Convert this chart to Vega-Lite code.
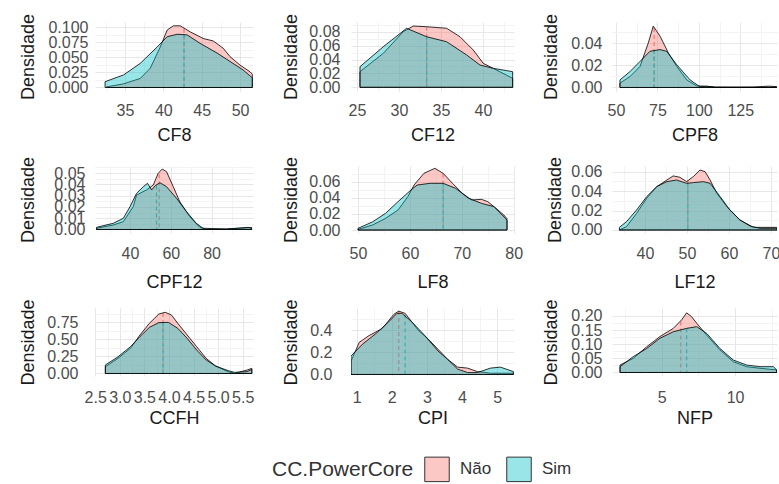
{
  "$schema": "https://vega.github.io/schema/vega-lite/v6.json",
  "autosize": {"type": "none"},
  "padding": {"left": 95, "top": 22, "right": 684, "bottom": 462},
  "background": "white",
  "datasets": {
    "means": [
      {"v": "CF8", "grp": "Não", "x": 42.7, "y": 0.097}, {"v": "CF8", "grp": "Sim", "x": 42.7, "y": 0.088},
      {"v": "CF12", "grp": "Não", "x": 33.3, "y": 0.087}, {"v": "CF12", "grp": "Sim", "x": 33.3, "y": 0.073},
      {"v": "CPF8", "grp": "Não", "x": 73, "y": 0.054}, {"v": "CPF8", "grp": "Sim", "x": 73, "y": 0.034},
      {"v": "CPF12", "grp": "Não", "x": 54.3, "y": 0.049}, {"v": "CPF12", "grp": "Sim", "x": 53.0, "y": 0.039},
      {"v": "LF8", "grp": "Não", "x": 66.4, "y": 0.070}, {"v": "LF8", "grp": "Sim", "x": 66.4, "y": 0.058},
      {"v": "LF12", "grp": "Não", "x": 50.2, "y": 0.051}, {"v": "LF12", "grp": "Sim", "x": 50.2, "y": 0.048},
      {"v": "CCFH", "grp": "Não", "x": 3.88, "y": 0.89}, {"v": "CCFH", "grp": "Sim", "x": 3.88, "y": 0.75},
      {"v": "CPI", "grp": "Não", "x": 2.2, "y": 0.57}, {"v": "CPI", "grp": "Sim", "x": 2.38, "y": 0.54},
      {"v": "NFP", "grp": "Não", "x": 6.3, "y": 0.18}, {"v": "NFP", "grp": "Sim", "x": 6.7, "y": 0.156}
    ],
    "dens": [
      {"v":"CF8","g":"Não","x":32.6,"y":0.001},{"v":"CF8","g":"Não","x":34.8,"y":0.006},{"v":"CF8","g":"Não","x":37.0,"y":0.015},{"v":"CF8","g":"Não","x":38.3,"y":0.032},{"v":"CF8","g":"Não","x":39.6,"y":0.067},{"v":"CF8","g":"Não","x":40.5,"y":0.095},{"v":"CF8","g":"Não","x":41.3,"y":0.102},{"v":"CF8","g":"Não","x":42.2,"y":0.102},{"v":"CF8","g":"Não","x":43.5,"y":0.092},{"v":"CF8","g":"Não","x":45.2,"y":0.081},{"v":"CF8","g":"Não","x":46.5,"y":0.077},{"v":"CF8","g":"Não","x":47.8,"y":0.065},{"v":"CF8","g":"Não","x":48.7,"y":0.051},{"v":"CF8","g":"Não","x":50.0,"y":0.037},{"v":"CF8","g":"Não","x":51.3,"y":0.026},{"v":"CF8","g":"Não","x":51.6,"y":0.022},
      {"v":"CF8","g":"Sim","x":32.4,"y":0.0096},{"v":"CF8","g":"Sim","x":34.8,"y":0.0207},{"v":"CF8","g":"Sim","x":37.0,"y":0.040},{"v":"CF8","g":"Sim","x":39.2,"y":0.067},{"v":"CF8","g":"Sim","x":40.5,"y":0.084},{"v":"CF8","g":"Sim","x":41.8,"y":0.088},{"v":"CF8","g":"Sim","x":43.1,"y":0.087},{"v":"CF8","g":"Sim","x":44.8,"y":0.073},{"v":"CF8","g":"Sim","x":47.0,"y":0.057},{"v":"CF8","g":"Sim","x":48.7,"y":0.043},{"v":"CF8","g":"Sim","x":50.4,"y":0.029},{"v":"CF8","g":"Sim","x":51.6,"y":0.016},

      {"v":"CF12","g":"Não","x":25.36,"y":0.0225},{"v":"CF12","g":"Não","x":28.13,"y":0.0489},{"v":"CF12","g":"Não","x":30.51,"y":0.080},{"v":"CF12","g":"Não","x":31.7,"y":0.0882},{"v":"CF12","g":"Não","x":33.29,"y":0.0872},{"v":"CF12","g":"Não","x":35.67,"y":0.085},{"v":"CF12","g":"Não","x":37.26,"y":0.0728},{"v":"CF12","g":"Não","x":38.84,"y":0.0537},{"v":"CF12","g":"Não","x":40.03,"y":0.0345},{"v":"CF12","g":"Não","x":41.22,"y":0.0273},{"v":"CF12","g":"Não","x":43.53,"y":0.013},
      {"v":"CF12","g":"Sim","x":25.36,"y":0.0297},{"v":"CF12","g":"Sim","x":28.13,"y":0.0584},{"v":"CF12","g":"Sim","x":30.91,"y":0.0849},{"v":"CF12","g":"Sim","x":33.29,"y":0.0728},{"v":"CF12","g":"Sim","x":35.67,"y":0.0656},{"v":"CF12","g":"Sim","x":38.06,"y":0.0465},{"v":"CF12","g":"Sim","x":39.64,"y":0.0321},{"v":"CF12","g":"Sim","x":41.22,"y":0.0273},{"v":"CF12","g":"Sim","x":43.53,"y":0.0225},

      {"v":"CPF8","g":"Não","x":52.4,"y":0.0039},{"v":"CPF8","g":"Não","x":58.5,"y":0.0100},{"v":"CPF8","g":"Não","x":64.5,"y":0.0191},{"v":"CPF8","g":"Não","x":69.5,"y":0.0405},{"v":"CPF8","g":"Não","x":72.5,"y":0.0558},{"v":"CPF8","g":"Não","x":76.6,"y":0.0466},{"v":"CPF8","g":"Não","x":81.6,"y":0.0314},{"v":"CPF8","g":"Não","x":86.7,"y":0.0191},{"v":"CPF8","g":"Não","x":92.7,"y":0.0069},{"v":"CPF8","g":"Não","x":98.7,"y":0.0014},{"v":"CPF8","g":"Não","x":104,"y":0.0012},{"v":"CPF8","g":"Não","x":110,"y":0.0004},{"v":"CPF8","g":"Não","x":123,"y":0.0003},{"v":"CPF8","g":"Não","x":133,"y":0.0004},{"v":"CPF8","g":"Não","x":142,"y":0.0012},{"v":"CPF8","g":"Não","x":147,"y":0.0008},
      {"v":"CPF8","g":"Sim","x":52.4,"y":0.0069},{"v":"CPF8","g":"Sim","x":58.5,"y":0.0145},{"v":"CPF8","g":"Sim","x":64.5,"y":0.0237},{"v":"CPF8","g":"Sim","x":70.5,"y":0.0329},{"v":"CPF8","g":"Sim","x":76.6,"y":0.0344},{"v":"CPF8","g":"Sim","x":80.6,"y":0.0329},{"v":"CPF8","g":"Sim","x":86.7,"y":0.0206},{"v":"CPF8","g":"Sim","x":94.7,"y":0.0069},{"v":"CPF8","g":"Sim","x":100.7,"y":0.0007},{"v":"CPF8","g":"Sim","x":105,"y":0.0011},{"v":"CPF8","g":"Sim","x":110,"y":0.0002},{"v":"CPF8","g":"Sim","x":147,"y":0.0002},

      {"v":"CPF12","g":"Não","x":23.6,"y":0.0011},{"v":"CPF12","g":"Não","x":31.8,"y":0.004},{"v":"CPF12","g":"Não","x":36.7,"y":0.0069},{"v":"CPF12","g":"Não","x":41.6,"y":0.0202},{"v":"CPF12","g":"Não","x":43.2,"y":0.0305},{"v":"CPF12","g":"Não","x":48.1,"y":0.035},{"v":"CPF12","g":"Não","x":51.4,"y":0.0394},{"v":"CPF12","g":"Não","x":53.8,"y":0.0497},{"v":"CPF12","g":"Não","x":55.8,"y":0.0535},{"v":"CPF12","g":"Não","x":57.9,"y":0.0512},{"v":"CPF12","g":"Não","x":61.2,"y":0.0379},{"v":"CPF12","g":"Não","x":64.4,"y":0.0246},{"v":"CPF12","g":"Não","x":69.3,"y":0.0113},{"v":"CPF12","g":"Não","x":74.2,"y":0.0019},{"v":"CPF12","g":"Não","x":77.4,"y":0.0002},{"v":"CPF12","g":"Não","x":87.2,"y":0.0004},{"v":"CPF12","g":"Não","x":97.9,"y":0.0015},{"v":"CPF12","g":"Não","x":99.6,"y":0.0019},
      {"v":"CPF12","g":"Sim","x":23.6,"y":0.0019},{"v":"CPF12","g":"Sim","x":31.8,"y":0.0055},{"v":"CPF12","g":"Sim","x":36.7,"y":0.0099},{"v":"CPF12","g":"Sim","x":40.0,"y":0.0202},{"v":"CPF12","g":"Sim","x":43.2,"y":0.032},{"v":"CPF12","g":"Sim","x":46.5,"y":0.0379},{"v":"CPF12","g":"Sim","x":48.6,"y":0.0409},{"v":"CPF12","g":"Sim","x":50.6,"y":0.035},{"v":"CPF12","g":"Sim","x":52.5,"y":0.039},{"v":"CPF12","g":"Sim","x":54.7,"y":0.0414},{"v":"CPF12","g":"Sim","x":57.9,"y":0.0379},{"v":"CPF12","g":"Sim","x":62.8,"y":0.0276},{"v":"CPF12","g":"Sim","x":67.7,"y":0.0158},{"v":"CPF12","g":"Sim","x":72.5,"y":0.0055},{"v":"CPF12","g":"Sim","x":75.8,"y":0.0011},{"v":"CPF12","g":"Sim","x":87.2,"y":0.0004},{"v":"CPF12","g":"Sim","x":97.9,"y":0.0019},{"v":"CPF12","g":"Sim","x":99.6,"y":0.001},

      {"v":"LF8","g":"Não","x":50.0,"y":0.0008},{"v":"LF8","g":"Não","x":52.8,"y":0.0062},{"v":"LF8","g":"Não","x":55.3,"y":0.0145},{"v":"LF8","g":"Não","x":57.7,"y":0.0248},{"v":"LF8","g":"Não","x":59.6,"y":0.0414},{"v":"LF8","g":"Não","x":60.8,"y":0.0559},{"v":"LF8","g":"Não","x":62.7,"y":0.0704},{"v":"LF8","g":"Não","x":64.8,"y":0.0766},{"v":"LF8","g":"Não","x":66.4,"y":0.0704},{"v":"LF8","g":"Não","x":68.2,"y":0.058},{"v":"LF8","g":"Não","x":70.1,"y":0.0456},{"v":"LF8","g":"Não","x":71.9,"y":0.0373},{"v":"LF8","g":"Não","x":73.8,"y":0.0381},{"v":"LF8","g":"Não","x":75.0,"y":0.0352},{"v":"LF8","g":"Não","x":76.2,"y":0.029},{"v":"LF8","g":"Não","x":78.1,"y":0.0186},{"v":"LF8","g":"Não","x":78.7,"y":0.014},
      {"v":"LF8","g":"Sim","x":50.0,"y":0.0021},{"v":"LF8","g":"Sim","x":52.8,"y":0.0101},{"v":"LF8","g":"Sim","x":55.3,"y":0.0207},{"v":"LF8","g":"Sim","x":57.7,"y":0.0352},{"v":"LF8","g":"Sim","x":60.2,"y":0.0497},{"v":"LF8","g":"Sim","x":61.4,"y":0.0559},{"v":"LF8","g":"Sim","x":63.9,"y":0.058},{"v":"LF8","g":"Sim","x":66.4,"y":0.058},{"v":"LF8","g":"Sim","x":68.8,"y":0.0518},{"v":"LF8","g":"Sim","x":71.3,"y":0.0394},{"v":"LF8","g":"Sim","x":73.8,"y":0.0331},{"v":"LF8","g":"Sim","x":76.2,"y":0.029},{"v":"LF8","g":"Sim","x":78.4,"y":0.0145},{"v":"LF8","g":"Sim","x":78.7,"y":0.012},

      {"v":"LF12","g":"Não","x":33.9,"y":0.0},{"v":"LF12","g":"Não","x":35.6,"y":0.0034},{"v":"LF12","g":"Não","x":38.0,"y":0.0171},{"v":"LF12","g":"Não","x":40.4,"y":0.0326},{"v":"LF12","g":"Não","x":42.8,"y":0.0446},{"v":"LF12","g":"Não","x":45.2,"y":0.0514},{"v":"LF12","g":"Não","x":46.7,"y":0.0556},{"v":"LF12","g":"Não","x":48.3,"y":0.0542},{"v":"LF12","g":"Não","x":49.9,"y":0.0497},{"v":"LF12","g":"Não","x":51.5,"y":0.0549},{"v":"LF12","g":"Não","x":53.1,"y":0.0617},{"v":"LF12","g":"Não","x":54.3,"y":0.06},{"v":"LF12","g":"Não","x":55.5,"y":0.0514},{"v":"LF12","g":"Não","x":57.1,"y":0.0377},{"v":"LF12","g":"Não","x":59.5,"y":0.024},{"v":"LF12","g":"Não","x":62.6,"y":0.0103},{"v":"LF12","g":"Não","x":65.8,"y":0.0027},{"v":"LF12","g":"Não","x":71.4,"y":0.0027},
      {"v":"LF12","g":"Sim","x":33.9,"y":0.0027},{"v":"LF12","g":"Sim","x":35.6,"y":0.0086},{"v":"LF12","g":"Sim","x":38.0,"y":0.0206},{"v":"LF12","g":"Sim","x":40.4,"y":0.0343},{"v":"LF12","g":"Sim","x":42.8,"y":0.0446},{"v":"LF12","g":"Sim","x":45.2,"y":0.0497},{"v":"LF12","g":"Sim","x":47.5,"y":0.0514},{"v":"LF12","g":"Sim","x":49.9,"y":0.048},{"v":"LF12","g":"Sim","x":51.5,"y":0.0487},{"v":"LF12","g":"Sim","x":53.9,"y":0.0497},{"v":"LF12","g":"Sim","x":55.5,"y":0.048},{"v":"LF12","g":"Sim","x":57.9,"y":0.0343},{"v":"LF12","g":"Sim","x":60.2,"y":0.0206},{"v":"LF12","g":"Sim","x":62.6,"y":0.0103},{"v":"LF12","g":"Sim","x":65.0,"y":0.0041},{"v":"LF12","g":"Sim","x":67.4,"y":0.0017},{"v":"LF12","g":"Sim","x":71.4,"y":0.0017},

      {"v":"CCFH","g":"Não","x":2.706,"y":0.10},{"v":"CCFH","g":"Não","x":2.962,"y":0.223},{"v":"CCFH","g":"Não","x":3.217,"y":0.37},{"v":"CCFH","g":"Não","x":3.41,"y":0.566},{"v":"CCFH","g":"Não","x":3.602,"y":0.738},{"v":"CCFH","g":"Não","x":3.795,"y":0.875},{"v":"CCFH","g":"Não","x":3.923,"y":0.90},{"v":"CCFH","g":"Não","x":4.051,"y":0.86},{"v":"CCFH","g":"Não","x":4.179,"y":0.738},{"v":"CCFH","g":"Não","x":4.371,"y":0.566},{"v":"CCFH","g":"Não","x":4.564,"y":0.394},{"v":"CCFH","g":"Não","x":4.756,"y":0.223},{"v":"CCFH","g":"Não","x":4.949,"y":0.11},{"v":"CCFH","g":"Não","x":5.205,"y":0.027},{"v":"CCFH","g":"Não","x":5.333,"y":0.002},{"v":"CCFH","g":"Não","x":5.59,"y":0.051},{"v":"CCFH","g":"Não","x":5.686,"y":0.076},
      {"v":"CCFH","g":"Sim","x":2.706,"y":0.125},{"v":"CCFH","g":"Sim","x":2.962,"y":0.245},{"v":"CCFH","g":"Sim","x":3.217,"y":0.394},{"v":"CCFH","g":"Sim","x":3.41,"y":0.542},{"v":"CCFH","g":"Sim","x":3.602,"y":0.679},{"v":"CCFH","g":"Sim","x":3.795,"y":0.748},{"v":"CCFH","g":"Sim","x":3.987,"y":0.752},{"v":"CCFH","g":"Sim","x":4.179,"y":0.664},{"v":"CCFH","g":"Sim","x":4.371,"y":0.517},{"v":"CCFH","g":"Sim","x":4.564,"y":0.345},{"v":"CCFH","g":"Sim","x":4.756,"y":0.199},{"v":"CCFH","g":"Sim","x":4.949,"y":0.11},{"v":"CCFH","g":"Sim","x":5.205,"y":0.042},{"v":"CCFH","g":"Sim","x":5.333,"y":0.017},{"v":"CCFH","g":"Sim","x":5.59,"y":0.027},{"v":"CCFH","g":"Sim","x":5.686,"y":0.061},

      {"v":"CPI","g":"Não","x":0.84,"y":0.119},{"v":"CPI","g":"Não","x":1.075,"y":0.289},{"v":"CPI","g":"Não","x":1.355,"y":0.35},{"v":"CPI","g":"Não","x":1.728,"y":0.412},{"v":"CPI","g":"Não","x":2.055,"y":0.54},{"v":"CPI","g":"Não","x":2.195,"y":0.57},{"v":"CPI","g":"Não","x":2.381,"y":0.55},{"v":"CPI","g":"Não","x":2.756,"y":0.397},{"v":"CPI","g":"Não","x":3.036,"y":0.319},{"v":"CPI","g":"Não","x":3.317,"y":0.227},{"v":"CPI","g":"Não","x":3.597,"y":0.134},{"v":"CPI","g":"Não","x":3.877,"y":0.066},{"v":"CPI","g":"Não","x":4.157,"y":0.057},{"v":"CPI","g":"Não","x":4.437,"y":0.026},{"v":"CPI","g":"Não","x":4.81,"y":0.011},{"v":"CPI","g":"Não","x":5.462,"y":0.011},
      {"v":"CPI","g":"Sim","x":0.84,"y":0.165},{"v":"CPI","g":"Sim","x":1.168,"y":0.273},{"v":"CPI","g":"Sim","x":1.541,"y":0.366},{"v":"CPI","g":"Sim","x":1.915,"y":0.474},{"v":"CPI","g":"Sim","x":2.148,"y":0.55},{"v":"CPI","g":"Sim","x":2.289,"y":0.55},{"v":"CPI","g":"Sim","x":2.569,"y":0.474},{"v":"CPI","g":"Sim","x":2.942,"y":0.35},{"v":"CPI","g":"Sim","x":3.317,"y":0.211},{"v":"CPI","g":"Sim","x":3.597,"y":0.134},{"v":"CPI","g":"Sim","x":3.877,"y":0.048},{"v":"CPI","g":"Sim","x":4.157,"y":0.017},{"v":"CPI","g":"Sim","x":4.437,"y":0.017},{"v":"CPI","g":"Sim","x":4.81,"y":0.057},{"v":"CPI","g":"Sim","x":5.09,"y":0.066},{"v":"CPI","g":"Sim","x":5.462,"y":0.026},

      {"v":"NFP","g":"Não","x":2.16,"y":0.0265},{"v":"NFP","g":"Não","x":3.06,"y":0.05},{"v":"NFP","g":"Não","x":3.98,"y":0.091},{"v":"NFP","g":"Não","x":4.88,"y":0.127},{"v":"NFP","g":"Não","x":5.79,"y":0.156},{"v":"NFP","g":"Não","x":6.36,"y":0.186},{"v":"NFP","g":"Não","x":6.7,"y":0.211},{"v":"NFP","g":"Não","x":7.04,"y":0.197},{"v":"NFP","g":"Não","x":7.39,"y":0.174},{"v":"NFP","g":"Não","x":8.07,"y":0.132},{"v":"NFP","g":"Não","x":8.97,"y":0.08},{"v":"NFP","g":"Não","x":9.88,"y":0.038},{"v":"NFP","g":"Não","x":10.79,"y":0.0206},{"v":"NFP","g":"Não","x":11.7,"y":0.015},{"v":"NFP","g":"Não","x":12.84,"y":0.009},
      {"v":"NFP","g":"Sim","x":2.16,"y":0.0206},{"v":"NFP","g":"Sim","x":3.06,"y":0.056},{"v":"NFP","g":"Sim","x":3.98,"y":0.085},{"v":"NFP","g":"Sim","x":4.88,"y":0.121},{"v":"NFP","g":"Sim","x":5.79,"y":0.144},{"v":"NFP","g":"Sim","x":6.7,"y":0.156},{"v":"NFP","g":"Sim","x":7.39,"y":0.162},{"v":"NFP","g":"Sim","x":8.07,"y":0.138},{"v":"NFP","g":"Sim","x":8.97,"y":0.085},{"v":"NFP","g":"Sim","x":9.88,"y":0.044},{"v":"NFP","g":"Sim","x":10.79,"y":0.0265},{"v":"NFP","g":"Sim","x":11.7,"y":0.0206},{"v":"NFP","g":"Sim","x":12.61,"y":0.0206},{"v":"NFP","g":"Sim","x":12.84,"y":0.009}
    ]
  },
  "columns": 3,
  "bounds": "flush",
  "spacing": {"row": 75, "column": 98},
  "resolve": {"scale": {"fill": "shared"}, "legend": {"fill": "shared"}},
  "concat": [
    {
      "width": 158, "height": 69,
      "layer": [
        {"data": {"name": "means"}, "transform": [{"filter": "datum.v == 'CF8' && datum.grp == 'Não'"}],
         "mark": {"type": "rule", "strokeDash": [4, 3], "strokeWidth": 1.2, "clip": true, "color": "#F8766D"},
         "encoding": {
           "x": {"field": "x", "type": "quantitative", "scale": {"domain": [31.09, 51.69], "nice": false, "zero": false}},
           "y": {"field": "y", "type": "quantitative", "scale": {"domain": [-0.0058, 0.1083], "nice": false, "zero": false}},
           "y2": {"datum": 0}
         }},
        {"data": {"name": "means"}, "transform": [{"filter": "datum.v == 'CF8' && datum.grp == 'Sim'"}],
         "mark": {"type": "rule", "strokeDash": [4, 3], "strokeWidth": 1.2, "clip": true, "color": "#00BFC4"},
         "encoding": {
           "x": {"field": "x", "type": "quantitative", "scale": {"domain": [31.09, 51.69], "nice": false, "zero": false}},
           "y": {"field": "y", "type": "quantitative", "scale": {"domain": [-0.0058, 0.1083], "nice": false, "zero": false}},
           "y2": {"datum": 0}
         }},
        {"data": {"name": "dens"}, "transform": [{"filter": "datum.v == 'CF8'"}],
         "mark": {"type": "area", "fillOpacity": 0.4, "stroke": "#000", "strokeWidth": 0.8, "clip": true},
         "encoding": {
           "x": {"field": "x", "type": "quantitative", "scale": {"domain": [31.09, 51.69], "nice": false, "zero": false},
                 "axis": {"title": "CF8", "values": [32.5, 35, 37.5, 40, 42.5, 45, 47.5, 50], "format": ".0f", "labelOverlap": false, "tickCount": 100,
                          "labelExpr": "indexof([35,40,45,50], datum.value) >= 0 ? datum.label : ''",
                          "gridColor": {"condition": {"test": "indexof([35,40,45,50], datum.value) >= 0", "value": "#e4e4e4"}, "value": "#f2f2f2"},
                          "labelPadding": 24, "titleY": 49}},
           "y": {"field": "y", "type": "quantitative", "stack": null, "scale": {"domain": [-0.0058, 0.1083], "nice": false, "zero": false},
                 "axis": {"title": "Densidade", "values": [0, 0.0125, 0.025, 0.0375, 0.05, 0.0625, 0.075, 0.0875, 0.1], "format": ".3f", "labelOverlap": false, "tickCount": 100,
                          "labelExpr": "indexof([0,0.025,0.05,0.075,0.1], datum.value) >= 0 ? datum.label : ''",
                          "gridColor": {"condition": {"test": "indexof([0,0.025,0.05,0.075,0.1], datum.value) >= 0", "value": "#e4e4e4"}, "value": "#f2f2f2"},
                          "labelPadding": 7, "titleX": -62, "titleY": 34.5}},
           "fill": {"field": "g", "type": "nominal", "scale": {"domain": ["Não", "Sim"], "range": ["#F8766D", "#00BFC4"]},
                     "legend": {"title": "CC.PowerCore", "orient": "none", "legendX": 177, "legendY": 434,
                                "direction": "horizontal", "titleOrient": "left", "symbolType": "square", "symbolSize": 600,
                                "symbolStrokeColor": "#333", "symbolStrokeWidth": 1, "symbolOpacity": 1, "titleFontSize": 21, "titleFontWeight": "normal",
                                "titleColor": "#333", "labelFontSize": 17, "labelColor": "#333", "labelOffset": 10, "columnPadding": 12, "titlePadding": 10,
                                "encode": {"symbols": {"update": {"fillOpacity": {"value": 0.4}, "stroke": {"value": "#333"}, "strokeOpacity": {"value": 1}}}}}}
         }}
      ]
    },
    {
      "width": 163, "height": 69,
      "layer": [
        {"data": {"name": "means"}, "transform": [{"filter": "datum.v == 'CF12' && datum.grp == 'Não'"}],
         "mark": {"type": "rule", "strokeDash": [4, 3], "strokeWidth": 1.2, "clip": true, "color": "#F8766D"},
         "encoding": {
           "x": {"field": "x", "type": "quantitative", "scale": {"domain": [24.29, 43.69], "nice": false, "zero": false}},
           "y": {"field": "y", "type": "quantitative", "scale": {"domain": [-0.0053, 0.094], "nice": false, "zero": false}},
           "y2": {"datum": 0}
         }},
        {"data": {"name": "means"}, "transform": [{"filter": "datum.v == 'CF12' && datum.grp == 'Sim'"}],
         "mark": {"type": "rule", "strokeDash": [4, 3], "strokeWidth": 1.2, "clip": true, "color": "#00BFC4"},
         "encoding": {
           "x": {"field": "x", "type": "quantitative", "scale": {"domain": [24.29, 43.69], "nice": false, "zero": false}},
           "y": {"field": "y", "type": "quantitative", "scale": {"domain": [-0.0053, 0.094], "nice": false, "zero": false}},
           "y2": {"datum": 0}
         }},
        {"data": {"name": "dens"}, "transform": [{"filter": "datum.v == 'CF12'"}],
         "mark": {"type": "area", "fillOpacity": 0.4, "stroke": "#000", "strokeWidth": 0.8, "clip": true},
         "encoding": {
           "x": {"field": "x", "type": "quantitative", "scale": {"domain": [24.29, 43.69], "nice": false, "zero": false},
                 "axis": {"title": "CF12", "values": [25, 27.5, 30, 32.5, 35, 37.5, 40, 42.5], "format": ".0f", "labelOverlap": false, "tickCount": 100,
                          "labelExpr": "indexof([25,30,35,40], datum.value) >= 0 ? datum.label : ''",
                          "gridColor": {"condition": {"test": "indexof([25,30,35,40], datum.value) >= 0", "value": "#e4e4e4"}, "value": "#f2f2f2"},
                          "labelPadding": 24, "titleY": 49}},
           "y": {"field": "y", "type": "quantitative", "stack": null, "scale": {"domain": [-0.0053, 0.094], "nice": false, "zero": false},
                 "axis": {"title": "Densidade", "values": [0, 0.01, 0.02, 0.03, 0.04, 0.05, 0.06, 0.07, 0.08, 0.09], "format": ".2f", "labelOverlap": false, "tickCount": 100,
                          "labelExpr": "indexof([0,0.02,0.04,0.06,0.08], datum.value) >= 0 ? datum.label : ''",
                          "gridColor": {"condition": {"test": "indexof([0,0.02,0.04,0.06,0.08], datum.value) >= 0", "value": "#e4e4e4"}, "value": "#f2f2f2"},
                          "labelPadding": 11, "titleX": -54.5, "titleY": 34.5}},
           "fill": {"field": "g", "type": "nominal", "scale": {"domain": ["Não", "Sim"], "range": ["#F8766D", "#00BFC4"]}}
         }}
      ]
    },
    {
      "width": 165, "height": 69,
      "layer": [
        {"data": {"name": "means"}, "transform": [{"filter": "datum.v == 'CPF8' && datum.grp == 'Não'"}],
         "mark": {"type": "rule", "strokeDash": [4, 3], "strokeWidth": 1.2, "clip": true, "color": "#F8766D"},
         "encoding": {
           "x": {"field": "x", "type": "quantitative", "scale": {"domain": [47.58, 147.2], "nice": false, "zero": false}},
           "y": {"field": "y", "type": "quantitative", "scale": {"domain": [-0.0032, 0.0595], "nice": false, "zero": false}},
           "y2": {"datum": 0}
         }},
        {"data": {"name": "means"}, "transform": [{"filter": "datum.v == 'CPF8' && datum.grp == 'Sim'"}],
         "mark": {"type": "rule", "strokeDash": [4, 3], "strokeWidth": 1.2, "clip": true, "color": "#00BFC4"},
         "encoding": {
           "x": {"field": "x", "type": "quantitative", "scale": {"domain": [47.58, 147.2], "nice": false, "zero": false}},
           "y": {"field": "y", "type": "quantitative", "scale": {"domain": [-0.0032, 0.0595], "nice": false, "zero": false}},
           "y2": {"datum": 0}
         }},
        {"data": {"name": "dens"}, "transform": [{"filter": "datum.v == 'CPF8'"}],
         "mark": {"type": "area", "fillOpacity": 0.4, "stroke": "#000", "strokeWidth": 0.8, "clip": true},
         "encoding": {
           "x": {"field": "x", "type": "quantitative", "scale": {"domain": [47.58, 147.2], "nice": false, "zero": false},
                 "axis": {"title": "CPF8", "values": [50, 62.5, 75, 87.5, 100, 112.5, 125, 137.5], "format": ".0f", "labelOverlap": false, "tickCount": 100,
                          "labelExpr": "indexof([50,75,100,125], datum.value) >= 0 ? datum.label : ''",
                          "gridColor": {"condition": {"test": "indexof([50,75,100,125], datum.value) >= 0", "value": "#e4e4e4"}, "value": "#f2f2f2"},
                          "labelPadding": 24, "titleY": 49}},
           "y": {"field": "y", "type": "quantitative", "stack": null, "scale": {"domain": [-0.0032, 0.0595], "nice": false, "zero": false},
                 "axis": {"title": "Densidade", "values": [0, 0.01, 0.02, 0.03, 0.04, 0.05], "format": ".2f", "labelOverlap": false, "tickCount": 100,
                          "labelExpr": "indexof([0,0.02,0.04], datum.value) >= 0 ? datum.label : ''",
                          "gridColor": {"condition": {"test": "indexof([0,0.02,0.04], datum.value) >= 0", "value": "#e4e4e4"}, "value": "#f2f2f2"},
                          "labelPadding": 10, "titleX": -55.5, "titleY": 34.5}},
           "fill": {"field": "g", "type": "nominal", "scale": {"domain": ["Não", "Sim"], "range": ["#F8766D", "#00BFC4"]}}
         }}
      ]
    },
    {
      "width": 158, "height": 67,
      "layer": [
        {"data": {"name": "means"}, "transform": [{"filter": "datum.v == 'CPF12' && datum.grp == 'Não'"}],
         "mark": {"type": "rule", "strokeDash": [4, 3], "strokeWidth": 1.2, "clip": true, "color": "#F8766D"},
         "encoding": {
           "x": {"field": "x", "type": "quantitative", "scale": {"domain": [22.84, 100.29], "nice": false, "zero": false}},
           "y": {"field": "y", "type": "quantitative", "scale": {"domain": [-0.0031, 0.0562], "nice": false, "zero": false}},
           "y2": {"datum": 0}
         }},
        {"data": {"name": "means"}, "transform": [{"filter": "datum.v == 'CPF12' && datum.grp == 'Sim'"}],
         "mark": {"type": "rule", "strokeDash": [4, 3], "strokeWidth": 1.2, "clip": true, "color": "#00BFC4"},
         "encoding": {
           "x": {"field": "x", "type": "quantitative", "scale": {"domain": [22.84, 100.29], "nice": false, "zero": false}},
           "y": {"field": "y", "type": "quantitative", "scale": {"domain": [-0.0031, 0.0562], "nice": false, "zero": false}},
           "y2": {"datum": 0}
         }},
        {"data": {"name": "dens"}, "transform": [{"filter": "datum.v == 'CPF12'"}],
         "mark": {"type": "area", "fillOpacity": 0.4, "stroke": "#000", "strokeWidth": 0.8, "clip": true},
         "encoding": {
           "x": {"field": "x", "type": "quantitative", "scale": {"domain": [22.84, 100.29], "nice": false, "zero": false},
                 "axis": {"title": "CPF12", "values": [30, 40, 50, 60, 70, 80, 90], "format": ".0f", "labelOverlap": false, "tickCount": 100,
                          "labelExpr": "indexof([40,60,80], datum.value) >= 0 ? datum.label : ''",
                          "gridColor": {"condition": {"test": "indexof([40,60,80], datum.value) >= 0", "value": "#e4e4e4"}, "value": "#f2f2f2"},
                          "labelPadding": 25, "titleY": 54}},
           "y": {"field": "y", "type": "quantitative", "stack": null, "scale": {"domain": [-0.0031, 0.0562], "nice": false, "zero": false},
                 "axis": {"title": "Densidade", "values": [0, 0.005, 0.01, 0.015, 0.02, 0.025, 0.03, 0.035, 0.04, 0.045, 0.05, 0.055], "format": ".2f", "labelOverlap": false, "tickCount": 100,
                          "labelExpr": "indexof([0,0.01,0.02,0.03,0.04,0.05], datum.value) >= 0 ? datum.label : ''",
                          "gridColor": {"condition": {"test": "indexof([0,0.01,0.02,0.03,0.04,0.05], datum.value) >= 0", "value": "#e4e4e4"}, "value": "#f2f2f2"},
                          "labelPadding": 10, "titleX": -62, "titleY": 33.5}},
           "fill": {"field": "g", "type": "nominal", "scale": {"domain": ["Não", "Sim"], "range": ["#F8766D", "#00BFC4"]}}
         }}
      ]
    },
    {
      "width": 163, "height": 67,
      "layer": [
        {"data": {"name": "means"}, "transform": [{"filter": "datum.v == 'LF8' && datum.grp == 'Não'"}],
         "mark": {"type": "rule", "strokeDash": [4, 3], "strokeWidth": 1.2, "clip": true, "color": "#F8766D"},
         "encoding": {
           "x": {"field": "x", "type": "quantitative", "scale": {"domain": [48.65, 80.05], "nice": false, "zero": false}},
           "y": {"field": "y", "type": "quantitative", "scale": {"domain": [-0.0037, 0.0795], "nice": false, "zero": false}},
           "y2": {"datum": 0}
         }},
        {"data": {"name": "means"}, "transform": [{"filter": "datum.v == 'LF8' && datum.grp == 'Sim'"}],
         "mark": {"type": "rule", "strokeDash": [4, 3], "strokeWidth": 1.2, "clip": true, "color": "#00BFC4"},
         "encoding": {
           "x": {"field": "x", "type": "quantitative", "scale": {"domain": [48.65, 80.05], "nice": false, "zero": false}},
           "y": {"field": "y", "type": "quantitative", "scale": {"domain": [-0.0037, 0.0795], "nice": false, "zero": false}},
           "y2": {"datum": 0}
         }},
        {"data": {"name": "dens"}, "transform": [{"filter": "datum.v == 'LF8'"}],
         "mark": {"type": "area", "fillOpacity": 0.4, "stroke": "#000", "strokeWidth": 0.8, "clip": true},
         "encoding": {
           "x": {"field": "x", "type": "quantitative", "scale": {"domain": [48.65, 80.05], "nice": false, "zero": false},
                 "axis": {"title": "LF8", "values": [50, 55, 60, 65, 70, 75, 80], "format": ".0f", "labelOverlap": false, "tickCount": 100,
                          "labelExpr": "indexof([50,60,70,80], datum.value) >= 0 ? datum.label : ''",
                          "gridColor": {"condition": {"test": "indexof([50,60,70,80], datum.value) >= 0", "value": "#e4e4e4"}, "value": "#f2f2f2"},
                          "labelPadding": 25, "titleY": 54}},
           "y": {"field": "y", "type": "quantitative", "stack": null, "scale": {"domain": [-0.0037, 0.0795], "nice": false, "zero": false},
                 "axis": {"title": "Densidade", "values": [0, 0.01, 0.02, 0.03, 0.04, 0.05, 0.06, 0.07], "format": ".2f", "labelOverlap": false, "tickCount": 100,
                          "labelExpr": "indexof([0,0.02,0.04,0.06], datum.value) >= 0 ? datum.label : ''",
                          "gridColor": {"condition": {"test": "indexof([0,0.02,0.04,0.06], datum.value) >= 0", "value": "#e4e4e4"}, "value": "#f2f2f2"},
                          "labelPadding": 11, "titleX": -54.5, "titleY": 33.5}},
           "fill": {"field": "g", "type": "nominal", "scale": {"domain": ["Não", "Sim"], "range": ["#F8766D", "#00BFC4"]}}
         }}
      ]
    },
    {
      "width": 165, "height": 67,
      "layer": [
        {"data": {"name": "means"}, "transform": [{"filter": "datum.v == 'LF12' && datum.grp == 'Não'"}],
         "mark": {"type": "rule", "strokeDash": [4, 3], "strokeWidth": 1.2, "clip": true, "color": "#F8766D"},
         "encoding": {
           "x": {"field": "x", "type": "quantitative", "scale": {"domain": [32.14, 71.43], "nice": false, "zero": false}},
           "y": {"field": "y", "type": "quantitative", "scale": {"domain": [-0.0031, 0.0658], "nice": false, "zero": false}},
           "y2": {"datum": 0}
         }},
        {"data": {"name": "means"}, "transform": [{"filter": "datum.v == 'LF12' && datum.grp == 'Sim'"}],
         "mark": {"type": "rule", "strokeDash": [4, 3], "strokeWidth": 1.2, "clip": true, "color": "#00BFC4"},
         "encoding": {
           "x": {"field": "x", "type": "quantitative", "scale": {"domain": [32.14, 71.43], "nice": false, "zero": false}},
           "y": {"field": "y", "type": "quantitative", "scale": {"domain": [-0.0031, 0.0658], "nice": false, "zero": false}},
           "y2": {"datum": 0}
         }},
        {"data": {"name": "dens"}, "transform": [{"filter": "datum.v == 'LF12'"}],
         "mark": {"type": "area", "fillOpacity": 0.4, "stroke": "#000", "strokeWidth": 0.8, "clip": true},
         "encoding": {
           "x": {"field": "x", "type": "quantitative", "scale": {"domain": [32.14, 71.43], "nice": false, "zero": false},
                 "axis": {"title": "LF12", "values": [35, 40, 45, 50, 55, 60, 65, 70], "format": ".0f", "labelOverlap": false, "tickCount": 100,
                          "labelExpr": "indexof([40,50,60,70], datum.value) >= 0 ? datum.label : ''",
                          "gridColor": {"condition": {"test": "indexof([40,50,60,70], datum.value) >= 0", "value": "#e4e4e4"}, "value": "#f2f2f2"},
                          "labelPadding": 25, "titleY": 54}},
           "y": {"field": "y", "type": "quantitative", "stack": null, "scale": {"domain": [-0.0031, 0.0658], "nice": false, "zero": false},
                 "axis": {"title": "Densidade", "values": [0, 0.01, 0.02, 0.03, 0.04, 0.05, 0.06], "format": ".2f", "labelOverlap": false, "tickCount": 100,
                          "labelExpr": "indexof([0,0.02,0.04,0.06], datum.value) >= 0 ? datum.label : ''",
                          "gridColor": {"condition": {"test": "indexof([0,0.02,0.04,0.06], datum.value) >= 0", "value": "#e4e4e4"}, "value": "#f2f2f2"},
                          "labelPadding": 10, "titleX": -52, "titleY": 33.5}},
           "fill": {"field": "g", "type": "nominal", "scale": {"domain": ["Não", "Sim"], "range": ["#F8766D", "#00BFC4"]}}
         }}
      ]
    },
    {
      "width": 158, "height": 68,
      "layer": [
        {"data": {"name": "means"}, "transform": [{"filter": "datum.v == 'CCFH' && datum.grp == 'Não'"}],
         "mark": {"type": "rule", "strokeDash": [4, 3], "strokeWidth": 1.2, "clip": true, "color": "#F8766D"},
         "encoding": {
           "x": {"field": "x", "type": "quantitative", "scale": {"domain": [2.495, 5.71], "nice": false, "zero": false}},
           "y": {"field": "y", "type": "quantitative", "scale": {"domain": [-0.0368, 0.963], "nice": false, "zero": false}},
           "y2": {"datum": 0}
         }},
        {"data": {"name": "means"}, "transform": [{"filter": "datum.v == 'CCFH' && datum.grp == 'Sim'"}],
         "mark": {"type": "rule", "strokeDash": [4, 3], "strokeWidth": 1.2, "clip": true, "color": "#00BFC4"},
         "encoding": {
           "x": {"field": "x", "type": "quantitative", "scale": {"domain": [2.495, 5.71], "nice": false, "zero": false}},
           "y": {"field": "y", "type": "quantitative", "scale": {"domain": [-0.0368, 0.963], "nice": false, "zero": false}},
           "y2": {"datum": 0}
         }},
        {"data": {"name": "dens"}, "transform": [{"filter": "datum.v == 'CCFH'"}],
         "mark": {"type": "area", "fillOpacity": 0.4, "stroke": "#000", "strokeWidth": 0.8, "clip": true},
         "encoding": {
           "x": {"field": "x", "type": "quantitative", "scale": {"domain": [2.495, 5.71], "nice": false, "zero": false},
                 "axis": {"title": "CCFH", "values": [2.5, 2.75, 3, 3.25, 3.5, 3.75, 4, 4.25, 4.5, 4.75, 5, 5.25, 5.5], "format": ".1f", "labelOverlap": false, "tickCount": 100,
                          "labelExpr": "indexof([2.5,3,3.5,4,4.5,5,5.5], datum.value) >= 0 ? datum.label : ''",
                          "gridColor": {"condition": {"test": "indexof([2.5,3,3.5,4,4.5,5,5.5], datum.value) >= 0", "value": "#e4e4e4"}, "value": "#f2f2f2"},
                          "labelPadding": 26, "titleY": 47}},
           "y": {"field": "y", "type": "quantitative", "stack": null, "scale": {"domain": [-0.0368, 0.963], "nice": false, "zero": false},
                 "axis": {"title": "Densidade", "values": [0, 0.125, 0.25, 0.375, 0.5, 0.625, 0.75, 0.875], "format": ".2f", "labelOverlap": false, "tickCount": 100,
                          "labelExpr": "indexof([0,0.25,0.5,0.75], datum.value) >= 0 ? datum.label : ''",
                          "gridColor": {"condition": {"test": "indexof([0,0.25,0.5,0.75], datum.value) >= 0", "value": "#e4e4e4"}, "value": "#f2f2f2"},
                          "labelPadding": 17, "titleX": -62, "titleY": 34}},
           "fill": {"field": "g", "type": "nominal", "scale": {"domain": ["Não", "Sim"], "range": ["#F8766D", "#00BFC4"]}}
         }}
      ]
    },
    {
      "width": 163, "height": 68,
      "layer": [
        {"data": {"name": "means"}, "transform": [{"filter": "datum.v == 'CPI' && datum.grp == 'Não'"}],
         "mark": {"type": "rule", "strokeDash": [4, 3], "strokeWidth": 1.2, "clip": true, "color": "#F8766D"},
         "encoding": {
           "x": {"field": "x", "type": "quantitative", "scale": {"domain": [0.84, 5.48], "nice": false, "zero": false}},
           "y": {"field": "y", "type": "quantitative", "scale": {"domain": [-0.0139, 0.598], "nice": false, "zero": false}},
           "y2": {"datum": 0}
         }},
        {"data": {"name": "means"}, "transform": [{"filter": "datum.v == 'CPI' && datum.grp == 'Sim'"}],
         "mark": {"type": "rule", "strokeDash": [4, 3], "strokeWidth": 1.2, "clip": true, "color": "#00BFC4"},
         "encoding": {
           "x": {"field": "x", "type": "quantitative", "scale": {"domain": [0.84, 5.48], "nice": false, "zero": false}},
           "y": {"field": "y", "type": "quantitative", "scale": {"domain": [-0.0139, 0.598], "nice": false, "zero": false}},
           "y2": {"datum": 0}
         }},
        {"data": {"name": "dens"}, "transform": [{"filter": "datum.v == 'CPI'"}],
         "mark": {"type": "area", "fillOpacity": 0.4, "stroke": "#000", "strokeWidth": 0.8, "clip": true},
         "encoding": {
           "x": {"field": "x", "type": "quantitative", "scale": {"domain": [0.84, 5.48], "nice": false, "zero": false},
                 "axis": {"title": "CPI", "values": [1, 1.5, 2, 2.5, 3, 3.5, 4, 4.5, 5], "format": ".0f", "labelOverlap": false, "tickCount": 100,
                          "labelExpr": "indexof([1,2,3,4,5], datum.value) >= 0 ? datum.label : ''",
                          "gridColor": {"condition": {"test": "indexof([1,2,3,4,5], datum.value) >= 0", "value": "#e4e4e4"}, "value": "#f2f2f2"},
                          "labelPadding": 26, "titleY": 47}},
           "y": {"field": "y", "type": "quantitative", "stack": null, "scale": {"domain": [-0.0139, 0.598], "nice": false, "zero": false},
                 "axis": {"title": "Densidade", "values": [0, 0.1, 0.2, 0.3, 0.4, 0.5], "format": ".1f", "labelOverlap": false, "tickCount": 100,
                          "labelExpr": "indexof([0,0.2,0.4], datum.value) >= 0 ? datum.label : ''",
                          "gridColor": {"condition": {"test": "indexof([0,0.2,0.4], datum.value) >= 0", "value": "#e4e4e4"}, "value": "#f2f2f2"},
                          "labelPadding": 19, "titleX": -54.5, "titleY": 34}},
           "fill": {"field": "g", "type": "nominal", "scale": {"domain": ["Não", "Sim"], "range": ["#F8766D", "#00BFC4"]}}
         }}
      ]
    },
    {
      "width": 165, "height": 68,
      "layer": [
        {"data": {"name": "means"}, "transform": [{"filter": "datum.v == 'NFP' && datum.grp == 'Não'"}],
         "mark": {"type": "rule", "strokeDash": [4, 3], "strokeWidth": 1.2, "clip": true, "color": "#F8766D"},
         "encoding": {
           "x": {"field": "x", "type": "quantitative", "scale": {"domain": [1.612, 12.86], "nice": false, "zero": false}},
           "y": {"field": "y", "type": "quantitative", "scale": {"domain": [-0.0124, 0.228], "nice": false, "zero": false}},
           "y2": {"datum": 0}
         }},
        {"data": {"name": "means"}, "transform": [{"filter": "datum.v == 'NFP' && datum.grp == 'Sim'"}],
         "mark": {"type": "rule", "strokeDash": [4, 3], "strokeWidth": 1.2, "clip": true, "color": "#00BFC4"},
         "encoding": {
           "x": {"field": "x", "type": "quantitative", "scale": {"domain": [1.612, 12.86], "nice": false, "zero": false}},
           "y": {"field": "y", "type": "quantitative", "scale": {"domain": [-0.0124, 0.228], "nice": false, "zero": false}},
           "y2": {"datum": 0}
         }},
        {"data": {"name": "dens"}, "transform": [{"filter": "datum.v == 'NFP'"}],
         "mark": {"type": "area", "fillOpacity": 0.4, "stroke": "#000", "strokeWidth": 0.8, "clip": true},
         "encoding": {
           "x": {"field": "x", "type": "quantitative", "scale": {"domain": [1.612, 12.86], "nice": false, "zero": false},
                 "axis": {"title": "NFP", "values": [2.5, 5, 7.5, 10, 12.5], "format": ".0f", "labelOverlap": false, "tickCount": 100,
                          "labelExpr": "indexof([5,10], datum.value) >= 0 ? datum.label : ''",
                          "gridColor": {"condition": {"test": "indexof([5,10], datum.value) >= 0", "value": "#e4e4e4"}, "value": "#f2f2f2"},
                          "labelPadding": 26, "titleY": 47}},
           "y": {"field": "y", "type": "quantitative", "stack": null, "scale": {"domain": [-0.0124, 0.228], "nice": false, "zero": false},
                 "axis": {"title": "Densidade", "values": [0, 0.025, 0.05, 0.075, 0.1, 0.125, 0.15, 0.175, 0.2], "format": ".2f", "labelOverlap": false, "tickCount": 100,
                          "labelExpr": "indexof([0,0.05,0.1,0.15,0.2], datum.value) >= 0 ? datum.label : ''",
                          "gridColor": {"condition": {"test": "indexof([0,0.05,0.1,0.15,0.2], datum.value) >= 0", "value": "#e4e4e4"}, "value": "#f2f2f2"},
                          "labelPadding": 10, "titleX": -55.5, "titleY": 34}},
           "fill": {"field": "g", "type": "nominal", "scale": {"domain": ["Não", "Sim"], "range": ["#F8766D", "#00BFC4"]}}
         }}
      ]
    }
  ],
  "config": {
    "view": {"stroke": null},
    "font": "Liberation Sans",
    "axis": {"domain": false, "ticks": false, "tickSize": 0, "labelColor": "#4d4d4d", "labelFontSize": 16,
             "titleColor": "#1a1a1a", "titleFontSize": 18, "titleFontWeight": "normal",
             "labelOverlap": false, "labelFlush": false, "gridWidth": 0.9},
    "axisX": {"labelBaseline": "alphabetic", "titleBaseline": "alphabetic"},
    "axisY": {"titleBaseline": "alphabetic"}
  }
}
